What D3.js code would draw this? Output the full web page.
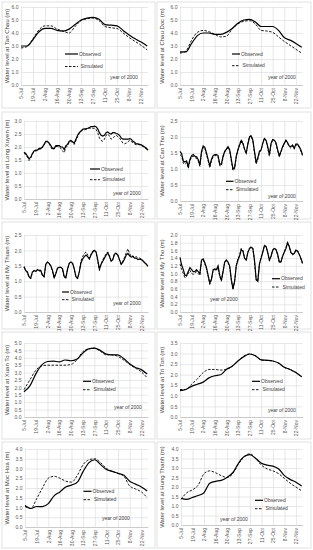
<!DOCTYPE html>
<html>
<head>
<meta charset="utf-8">
<style type="text/css">
  body { margin: 0; background: #fff; }
  text { font-family: "Liberation Sans", Arial, sans-serif; }
  .tick text { fill: #595959; font-size: 5px; }
  .tick line { stroke: #d9d9d9; stroke-width: 0.6; }
  .axis-title { fill: #404040; font-size: 6px; }
  .legend { fill: #404040; font-size: 5px; }
</style>
</head>
<body>
<svg id="chart"></svg>
<script src="https://d3js.org/d3.v7.min.js"></script>
<script type="text/javascript">
// ---- data ----
var startDate = new Date(2000, 6, 5),
    endDate = new Date(2000, 10, 30);
var tickLabels = ["5-Jul", "19-Jul", "2-Aug", "16-Aug", "30-Aug", "13-Sep", "27-Sep", "11-Oct", "25-Oct", "8-Nov", "22-Nov"];
var stations = ["Tan Chau", "Chau Doc", "Long Xuyen", "Can Tho", "My Thuan", "My Tho", "Xuan To", "Tri Ton", "Moc Hoa", "Hung Thanh"];
var yMax = [6, 6, 3, 2.5, 2.5, 2.0, 5, 3.5, 4, 4];
var yStep = [1, 1, 0.5, 0.5, 0.5, 0.2, 0.5, 0.5, 0.5, 0.5];
var dayStep = [7, 7, 2, 2, 2, 2, 7, 7, 7, 7];   // days between readings

var tanChauObs = [3.0, 3.0, 3.5, 4.1, 4.35, 4.35, 4.2, 4.15, 4.3, 4.65, 5.0, 5.15, 5.2, 5.05, 4.65, 4.6, 4.55, 4.2, 3.85, 3.55, 3.3, 3.0];
var tanChauSim = [2.85, 2.95, 3.55, 4.25, 4.55, 4.55, 4.3, 4.15, 4.0, 4.5, 4.95, 5.1, 5.15, 4.95, 4.5, 4.4, 4.35, 4.0, 3.65, 3.35, 3.05, 2.7];
var chauDocObs = [2.55, 2.55, 3.2, 3.8, 4.0, 4.0, 3.9, 3.9, 4.05, 4.35, 4.75, 5.0, 5.05, 4.85, 4.5, 4.5, 4.5, 4.2, 3.65, 3.45, 3.2, 2.9];
var chauDocSim = [2.45, 2.6, 3.45, 4.05, 4.2, 4.1, 3.9, 3.7, 3.75, 4.3, 4.7, 4.9, 4.95, 4.7, 4.2, 4.15, 4.05, 3.7, 3.35, 3.05, 2.75, 2.45];
var longXuyenObs = [1.80, 1.75, 1.65, 1.55, 1.60, 1.75, 1.85, 1.88, 1.88, 1.95,
    1.95, 2.00, 2.10, 2.22, 2.22, 2.15, 2.05, 1.95, 1.95, 2.05,
    2.05, 2.05, 2.00, 2.00, 1.90, 2.05, 2.10, 2.22, 2.25, 2.20,
    2.15, 2.30, 2.45, 2.55, 2.62, 2.68, 2.70, 2.70, 2.72, 2.75,
    2.78, 2.78, 2.80, 2.78, 2.70, 2.55, 2.45, 2.42, 2.45, 2.55,
    2.58, 2.52, 2.50, 2.55, 2.55, 2.52, 2.50, 2.45, 2.35, 2.30,
    2.30, 2.30, 2.30, 2.32, 2.30, 2.22, 2.18, 2.12, 2.12, 2.10,
    2.08, 2.05, 2.00, 1.95, 1.88];
var longXuyenSim = [1.75, 1.72, 1.62, 1.48, 1.58, 1.72, 1.82, 1.85, 1.86, 1.92,
    1.90, 1.98, 2.08, 2.20, 2.20, 2.12, 2.00, 1.90, 1.92, 2.02,
    2.02, 2.00, 1.95, 1.85, 1.78, 1.98, 2.05, 2.18, 2.22, 2.15,
    2.10, 2.25, 2.40, 2.52, 2.60, 2.65, 2.65, 2.68, 2.70, 2.72,
    2.72, 2.72, 2.72, 2.68, 2.55, 2.35, 2.25, 2.22, 2.30, 2.45,
    2.50, 2.42, 2.30, 2.35, 2.40, 2.45, 2.40, 2.35, 2.25, 2.15,
    2.12, 2.15, 2.20, 2.25, 2.22, 2.15, 2.12, 2.08, 2.10, 2.08,
    2.05, 2.02, 1.98, 1.92, 1.85];
var canThoObs = [1.55, 1.48, 1.25, 1.22, 1.25, 1.08, 1.30, 1.42, 1.45, 1.40,
    1.38, 1.30, 1.12, 1.55, 1.72, 1.68, 1.50, 1.30, 1.10, 1.30,
    1.42, 1.45, 1.45, 1.42, 1.15, 1.15, 1.40, 1.55, 1.62, 1.70,
    1.60, 1.30, 1.00, 1.05, 1.40, 1.60, 1.75, 1.88, 1.80, 1.62,
    1.50, 1.78, 2.00, 2.03, 1.90, 1.55, 1.20, 1.35, 1.55, 1.60,
    1.80, 1.95, 1.90, 1.70, 1.45, 1.80, 1.92, 1.90, 1.82, 1.60,
    1.42, 1.55, 1.70, 1.80, 1.90, 1.82, 1.72, 1.70, 1.75, 1.65,
    1.78, 1.78, 1.70, 1.60, 1.45];
var canThoSim = [1.45, 1.40, 1.18, 1.15, 1.20, 1.02, 1.25, 1.38, 1.40, 1.36,
    1.33, 1.25, 1.08, 1.50, 1.68, 1.65, 1.45, 1.25, 1.05, 1.25,
    1.38, 1.42, 1.42, 1.38, 1.10, 1.10, 1.35, 1.52, 1.60, 1.68,
    1.58, 1.25, 0.95, 1.00, 1.38, 1.60, 1.78, 1.92, 1.82, 1.60,
    1.48, 1.80, 2.02, 2.05, 1.88, 1.50, 1.15, 1.30, 1.52, 1.58,
    1.82, 1.97, 1.88, 1.65, 1.40, 1.78, 1.92, 1.90, 1.78, 1.55,
    1.38, 1.52, 1.68, 1.80, 1.90, 1.80, 1.70, 1.65, 1.72, 1.62,
    1.75, 1.75, 1.68, 1.55, 1.42];
var myThuanObs = [1.48, 1.35, 1.30, 1.15, 1.10, 1.30, 1.35, 1.32, 1.38, 1.35,
    1.35, 1.20, 1.15, 1.55, 1.62, 1.58, 1.50, 1.35, 1.12, 1.25,
    1.42, 1.45, 1.45, 1.40, 1.15, 1.12, 1.40, 1.58, 1.62, 1.58,
    1.40, 1.15, 1.10, 1.30, 1.60, 1.72, 1.80, 1.85, 1.80, 1.72,
    1.85, 1.95, 2.00, 1.95, 1.70, 1.40, 1.55, 1.65, 1.75, 1.85,
    1.92, 1.80, 1.65, 1.70, 1.88, 1.90, 1.85, 1.70, 1.55, 1.62,
    1.72, 1.85, 1.90, 1.82, 1.78, 1.80, 1.75, 1.75, 1.70, 1.72,
    1.70, 1.65, 1.60, 1.55, 1.48];
var myThuanSim = [1.45, 1.33, 1.28, 1.12, 1.08, 1.28, 1.33, 1.30, 1.36, 1.33,
    1.33, 1.18, 1.13, 1.55, 1.62, 1.58, 1.48, 1.32, 1.10, 1.25,
    1.42, 1.45, 1.45, 1.38, 1.12, 1.10, 1.38, 1.58, 1.62, 1.58,
    1.38, 1.12, 1.08, 1.30, 1.65, 1.80, 1.90, 1.95, 1.85, 1.75,
    1.88, 1.98, 2.02, 1.95, 1.65, 1.35, 1.55, 1.70, 1.80, 1.88,
    1.95, 1.82, 1.65, 1.72, 1.90, 1.92, 1.85, 1.68, 1.55, 1.65,
    1.78, 1.92, 2.05, 1.90, 1.80, 1.82, 1.78, 1.80, 1.75, 1.75,
    1.72, 1.68, 1.62, 1.55, 1.50];
var myThoObs = [1.42, 1.22, 1.10, 0.95, 0.95, 1.05, 1.15, 1.10, 1.05, 1.05,
    1.10, 1.05, 1.00, 1.35, 1.38, 1.28, 1.15, 0.95, 0.75, 0.85,
    1.10, 1.12, 1.10, 1.20, 0.95, 0.82, 1.05, 1.30, 1.35, 1.30,
    1.20, 0.85, 0.60, 0.80, 1.20, 1.35, 1.45, 1.62, 1.58, 1.40,
    1.35, 1.55, 1.65, 1.68, 1.65, 1.35, 0.85, 0.80, 1.25, 1.40,
    1.55, 1.72, 1.70, 1.55, 1.35, 1.45, 1.60, 1.65, 1.62, 1.50,
    1.30, 1.30, 1.45, 1.55, 1.65, 1.80, 1.70, 1.55, 1.50, 1.52,
    1.60, 1.58, 1.50, 1.40, 1.28];
var myThoSim = [1.25, 1.10, 1.00, 0.88, 0.92, 1.00, 1.08, 1.00, 0.98, 1.00,
    1.05, 1.00, 0.95, 1.32, 1.36, 1.25, 1.12, 0.92, 0.72, 0.85,
    1.08, 1.10, 1.08, 1.15, 0.92, 0.80, 1.05, 1.28, 1.33, 1.28,
    1.18, 0.82, 0.58, 0.80, 1.22, 1.38, 1.48, 1.65, 1.60, 1.40,
    1.33, 1.55, 1.66, 1.70, 1.65, 1.32, 0.82, 0.80, 1.25, 1.42,
    1.58, 1.74, 1.70, 1.52, 1.33, 1.45, 1.62, 1.66, 1.62, 1.48,
    1.28, 1.30, 1.46, 1.57, 1.67, 1.82, 1.70, 1.53, 1.48, 1.52,
    1.62, 1.60, 1.50, 1.38, 1.25];
var xuanToObs = [1.7, 2.1, 2.9, 3.5, 3.75, 3.78, 3.72, 3.85, 3.8, 3.9, 4.3, 4.6, 4.65, 4.5, 4.25, 4.2, 4.2, 3.95, 3.6, 3.35, 3.2, 2.9];
var xuanToSim = [1.85, 2.5, 3.15, 3.45, 3.5, 3.5, 3.5, 3.5, 3.55, 3.85, 4.4, 4.6, 4.65, 4.45, 4.2, 4.2, 4.1, 3.85, 3.55, 3.3, 3.05, 2.65];
var triTonObs = [1.25, 1.3, 1.45, 1.55, 1.65, 1.85, 1.95, 2.0, 2.25, 2.4, 2.65, 2.85, 2.98, 2.9, 2.7, 2.68, 2.65, 2.55, 2.35, 2.25, 2.1, 1.9];
var triTonSim = [1.3, 1.3, 1.55, 1.8, 2.1, 2.25, 2.25, 2.22, 2.25, 2.4, 2.65, 2.88, 2.98, 2.9, 2.7, 2.68, 2.65, 2.55, 2.35, 2.25, 2.1, 1.9];
var mocHoaObs = [1.1, 0.95, 1.05, 1.05, 1.2, 1.6, 1.8, 2.05, 2.15, 2.3, 2.85, 3.3, 3.45, 3.2, 2.95, 2.85, 2.75, 2.65, 2.35, 2.2, 2.05, 1.85];
var mocHoaSim = [1.05, 0.95, 1.45, 2.0, 2.5, 2.6, 2.5, 2.35, 2.3, 2.65, 3.2, 3.45, 3.5, 3.3, 3.0, 2.85, 2.75, 2.6, 2.1, 1.95, 1.8, 1.5];
var hungThanhObs = [1.4, 1.35, 1.45, 1.55, 1.7, 2.2, 2.3, 2.35, 2.5, 2.75, 3.25, 3.6, 3.7, 3.5, 3.25, 3.15, 3.1, 2.95, 2.6, 2.4, 2.25, 2.05];
var hungThanhSim = [1.35, 1.7, 1.85, 2.1, 2.7, 2.85, 2.75, 2.6, 2.5, 2.7, 3.2, 3.6, 3.75, 3.5, 3.15, 2.95, 2.85, 2.7, 2.45, 2.2, 2.0, 1.8];

var observed = [tanChauObs, chauDocObs, longXuyenObs, canThoObs, myThuanObs, myThoObs, xuanToObs, triTonObs, mocHoaObs, hungThanhObs];
var simulated = [tanChauSim, chauDocSim, longXuyenSim, canThoSim, myThuanSim, myThoSim, xuanToSim, triTonSim, mocHoaSim, hungThanhSim];

// ---- layout ----
var colBox = [[2, 155], [157, 311]];
var rowBox = [[2, 108], [112, 219], [222, 329], [332, 439], [442, 548]];
var plotLeft = [21, 180, 24, 180, 24, 180, 24, 180, 25, 181];
var plotRight = [148, 302.5];
var plotTop = [7, 7, 121, 121, 235, 235, 343, 343, 449, 449];
var plotBottom = [85, 85, 199, 201, 312, 312, 417, 417, 527, 525];
// [line x, observed y, simulated y, line length]
var legendPos = [[65, 54, 66.5, 13], [232, 54, 65.7, 8], [90, 169, 179.7, 10], [226, 181.3, 189.7, 7.5],
    [62, 292, 299.7, 7], [272, 278.7, 287, 8], [83, 381.3, 389.7, 8], [252, 381.3, 389.7, 8],
    [83.5, 491.3, 499.7, 8], [255, 500.3, 508.7, 8]];
var yearPos = [[110, 77], [268, 77.7], [113, 193], [268, 196.3], [113, 303], [210, 299.7],
    [114, 407.3], [268, 410.7], [102, 518.7], [220, 519.7]];

var W = 313, H = 550;
var svg = d3.select("#chart").attr("width", W).attr("height", H);
svg.append("rect").attr("width", W).attr("height", H).attr("fill", "#fff");

var parseTick = d3.timeParse("%d-%b-%Y");
var tickDates = tickLabels.map(function(t) { return parseTick(t + "-2000"); });
var fmt = d3.format(".1f");

stations.forEach(function(name, i) {
    var col = i % 2, row = Math.floor(i / 2);
    var g = svg.append("g");

    g.append("rect")
        .attr("x", colBox[col][0]).attr("y", rowBox[row][0])
        .attr("width", colBox[col][1] - colBox[col][0])
        .attr("height", rowBox[row][1] - rowBox[row][0])
        .attr("fill", "none").attr("stroke", "#d9d9d9").attr("stroke-width", 0.8);

    var x = d3.scaleTime().domain([startDate, endDate]).range([plotLeft[i], plotRight[col]]);
    var y = d3.scaleLinear().domain([0, yMax[i]]).range([plotBottom[i], plotTop[i]]);
    var yTicks = d3.range(0, yMax[i] + yStep[i] / 2, yStep[i]);

    // y axis + horizontal grid
    var ya = g.append("g")
        .attr("transform", "translate(" + plotLeft[i] + ",0)")
        .call(d3.axisLeft(y).tickValues(yTicks).tickFormat(fmt)
            .tickSize(-(plotRight[col] - plotLeft[i])).tickPadding(2.5));
    ya.select(".domain").remove();

    // x axis + vertical grid
    var xa = g.append("g")
        .attr("transform", "translate(0," + plotBottom[i] + ")")
        .call(d3.axisBottom(x).tickValues(tickDates)
            .tickFormat(function(d, j) { return tickLabels[j]; })
            .tickSize(-(plotBottom[i] - plotTop[i])).tickSizeOuter(0));
    xa.select(".domain").attr("stroke", "#bfbfbf").attr("stroke-width", 0.7);
    xa.selectAll("text")
        .attr("transform", "rotate(-90)")
        .attr("text-anchor", "end")
        .attr("x", -3).attr("y", 0).attr("dy", "0.35em");

    // axis title
    var cx = colBox[col][0] + 5, cy = (plotTop[i] + plotBottom[i]) / 2;
    g.append("text").attr("class", "axis-title")
        .attr("transform", "translate(" + cx + "," + cy + ") rotate(-90)")
        .attr("text-anchor", "middle").attr("dy", "0.35em")
        .text("Water level at " + name + " (m)");

    var curve = dayStep[i] > 2 ? d3.curveMonotoneX : d3.curveLinear;
    var line = d3.line()
        .x(function(d, k) { return x(d3.timeDay.offset(startDate, k * dayStep[i])); })
        .y(function(d) { return y(d); })
        .curve(curve);

    g.append("path").datum(simulated[i])
        .attr("d", line).attr("fill", "none").attr("stroke", "#000")
        .attr("stroke-width", 0.9).attr("stroke-dasharray", "2.5,1.5");
    g.append("path").datum(observed[i])
        .attr("d", line).attr("fill", "none").attr("stroke", "#000")
        .attr("stroke-width", 1.2);

    // legend
    var lp = legendPos[i];
    g.append("line").attr("x1", lp[0]).attr("x2", lp[0] + lp[3])
        .attr("y1", lp[1]).attr("y2", lp[1])
        .attr("stroke", "#000").attr("stroke-width", 1.2);
    g.append("text").attr("class", "legend")
        .attr("x", lp[0] + lp[3] + 1).attr("y", lp[1]).attr("dy", "0.35em").text("Observed");
    g.append("line").attr("x1", lp[0]).attr("x2", lp[0] + lp[3])
        .attr("y1", lp[2]).attr("y2", lp[2])
        .attr("stroke", "#000").attr("stroke-width", 0.9).attr("stroke-dasharray", "2.5,1.5");
    g.append("text").attr("class", "legend")
        .attr("x", lp[0] + lp[3] + 2.5).attr("y", lp[2]).attr("dy", "0.35em").text("Simulated");

    g.append("text").attr("class", "legend")
        .attr("x", yearPos[i][0]).attr("y", yearPos[i][1]).attr("dy", "0.35em")
        .text("year of 2000");
});
</script>
</body>
</html>
